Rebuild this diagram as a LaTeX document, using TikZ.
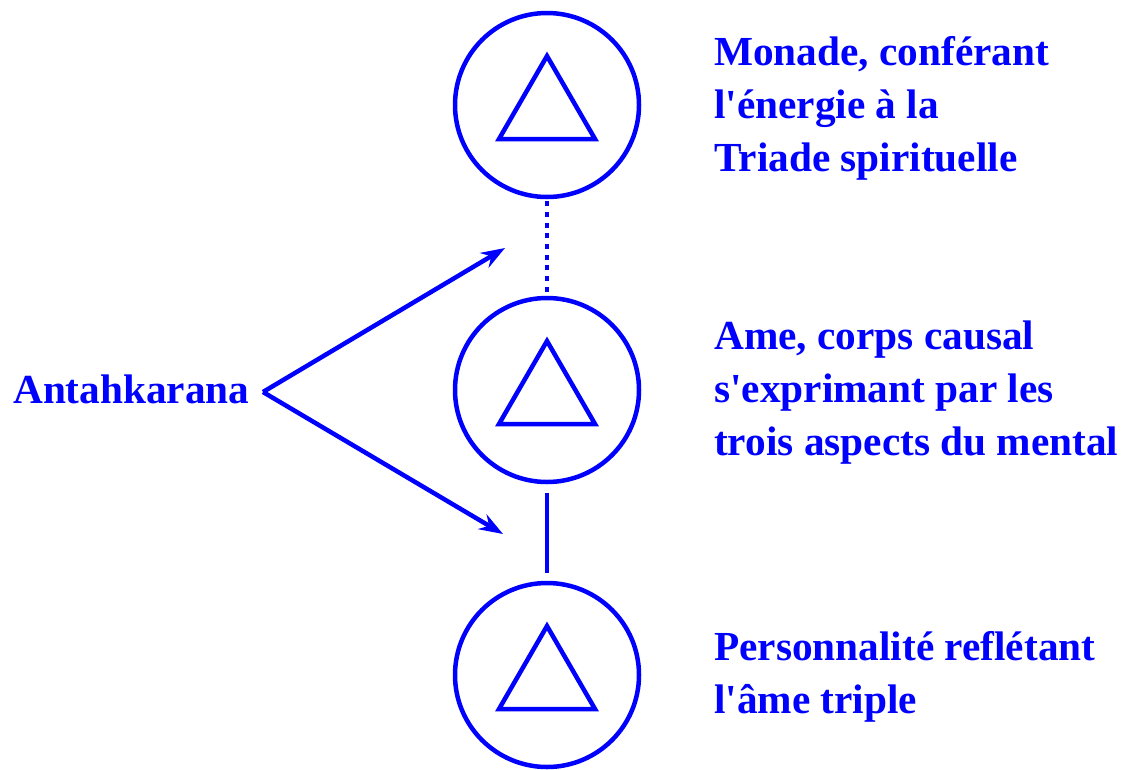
\documentclass[tikz,border=0pt]{standalone}
\usepackage{fontspec}
\setmainfont{Liberation Serif}[Ligatures=TeXOff]
\usetikzlibrary{arrows.meta}
\definecolor{pblue}{RGB}{0,0,255}
\begin{document}
\begin{tikzpicture}[x=1pt,y=-1pt,
  ring/.style={draw=pblue,line width=4.5pt,circle,minimum size=184pt,inner sep=0pt},
  tri/.style={draw=pblue,line width=4.5pt,line join=miter},
  link/.style={draw=pblue,line width=4.5pt},
  arr/.style={draw=pblue,line width=4.5pt,-{Stealth[length=24pt,width=17pt,inset=8pt]}},
  lbl/.style={text=pblue,inner sep=0pt,anchor=base west,font=\fontsize{41.3}{53}\selectfont\bfseries}]
\useasboundingbox (0,0) rectangle (1127,769);
\node[ring] (c1) at (547,105) {};
\node[ring] (c2) at (547,390) {};
\node[ring] (c3) at (547,675) {};
\foreach \c in {c1,c2,c3}{
  \draw[tri] ([shift={(-48,34)}]\c.center) -- ([shift={(48,34)}]\c.center) -- ([shift={(0,-49)}]\c.center) -- cycle;
}
\draw[link,dash pattern=on 5pt off 5.7pt,shorten <=2pt,shorten >=4pt] (c1) -- (c2);
\draw[link,shorten <=9pt,shorten >=8pt] (c2) -- (c3);
\node[lbl] (ant) at (13,403) {Antahkarana};
\coordinate (apex) at (263,392);
\coordinate (tipA) at (505,248);
\coordinate (tipB) at (503,534);
\draw[arr] (apex) -- (tipA);
\draw[arr] (apex) -- (tipB);
\node[lbl] (t1) at (714,65) {\vtop{\baselineskip=53pt\hbox{Monade, conférant}\hbox{l'énergie à la}\hbox{Triade spirituelle}}};
\node[lbl] (t2) at (714,349) {\vtop{\baselineskip=53pt\hbox{Ame, corps causal}\hbox{s'exprimant par les}\hbox{trois aspects du mental}}};
\node[lbl] (t3) at (714,660) {\vtop{\baselineskip=53pt\hbox{Personnalité reflétant}\hbox{l'âme triple}}};
\end{tikzpicture}
\end{document}
